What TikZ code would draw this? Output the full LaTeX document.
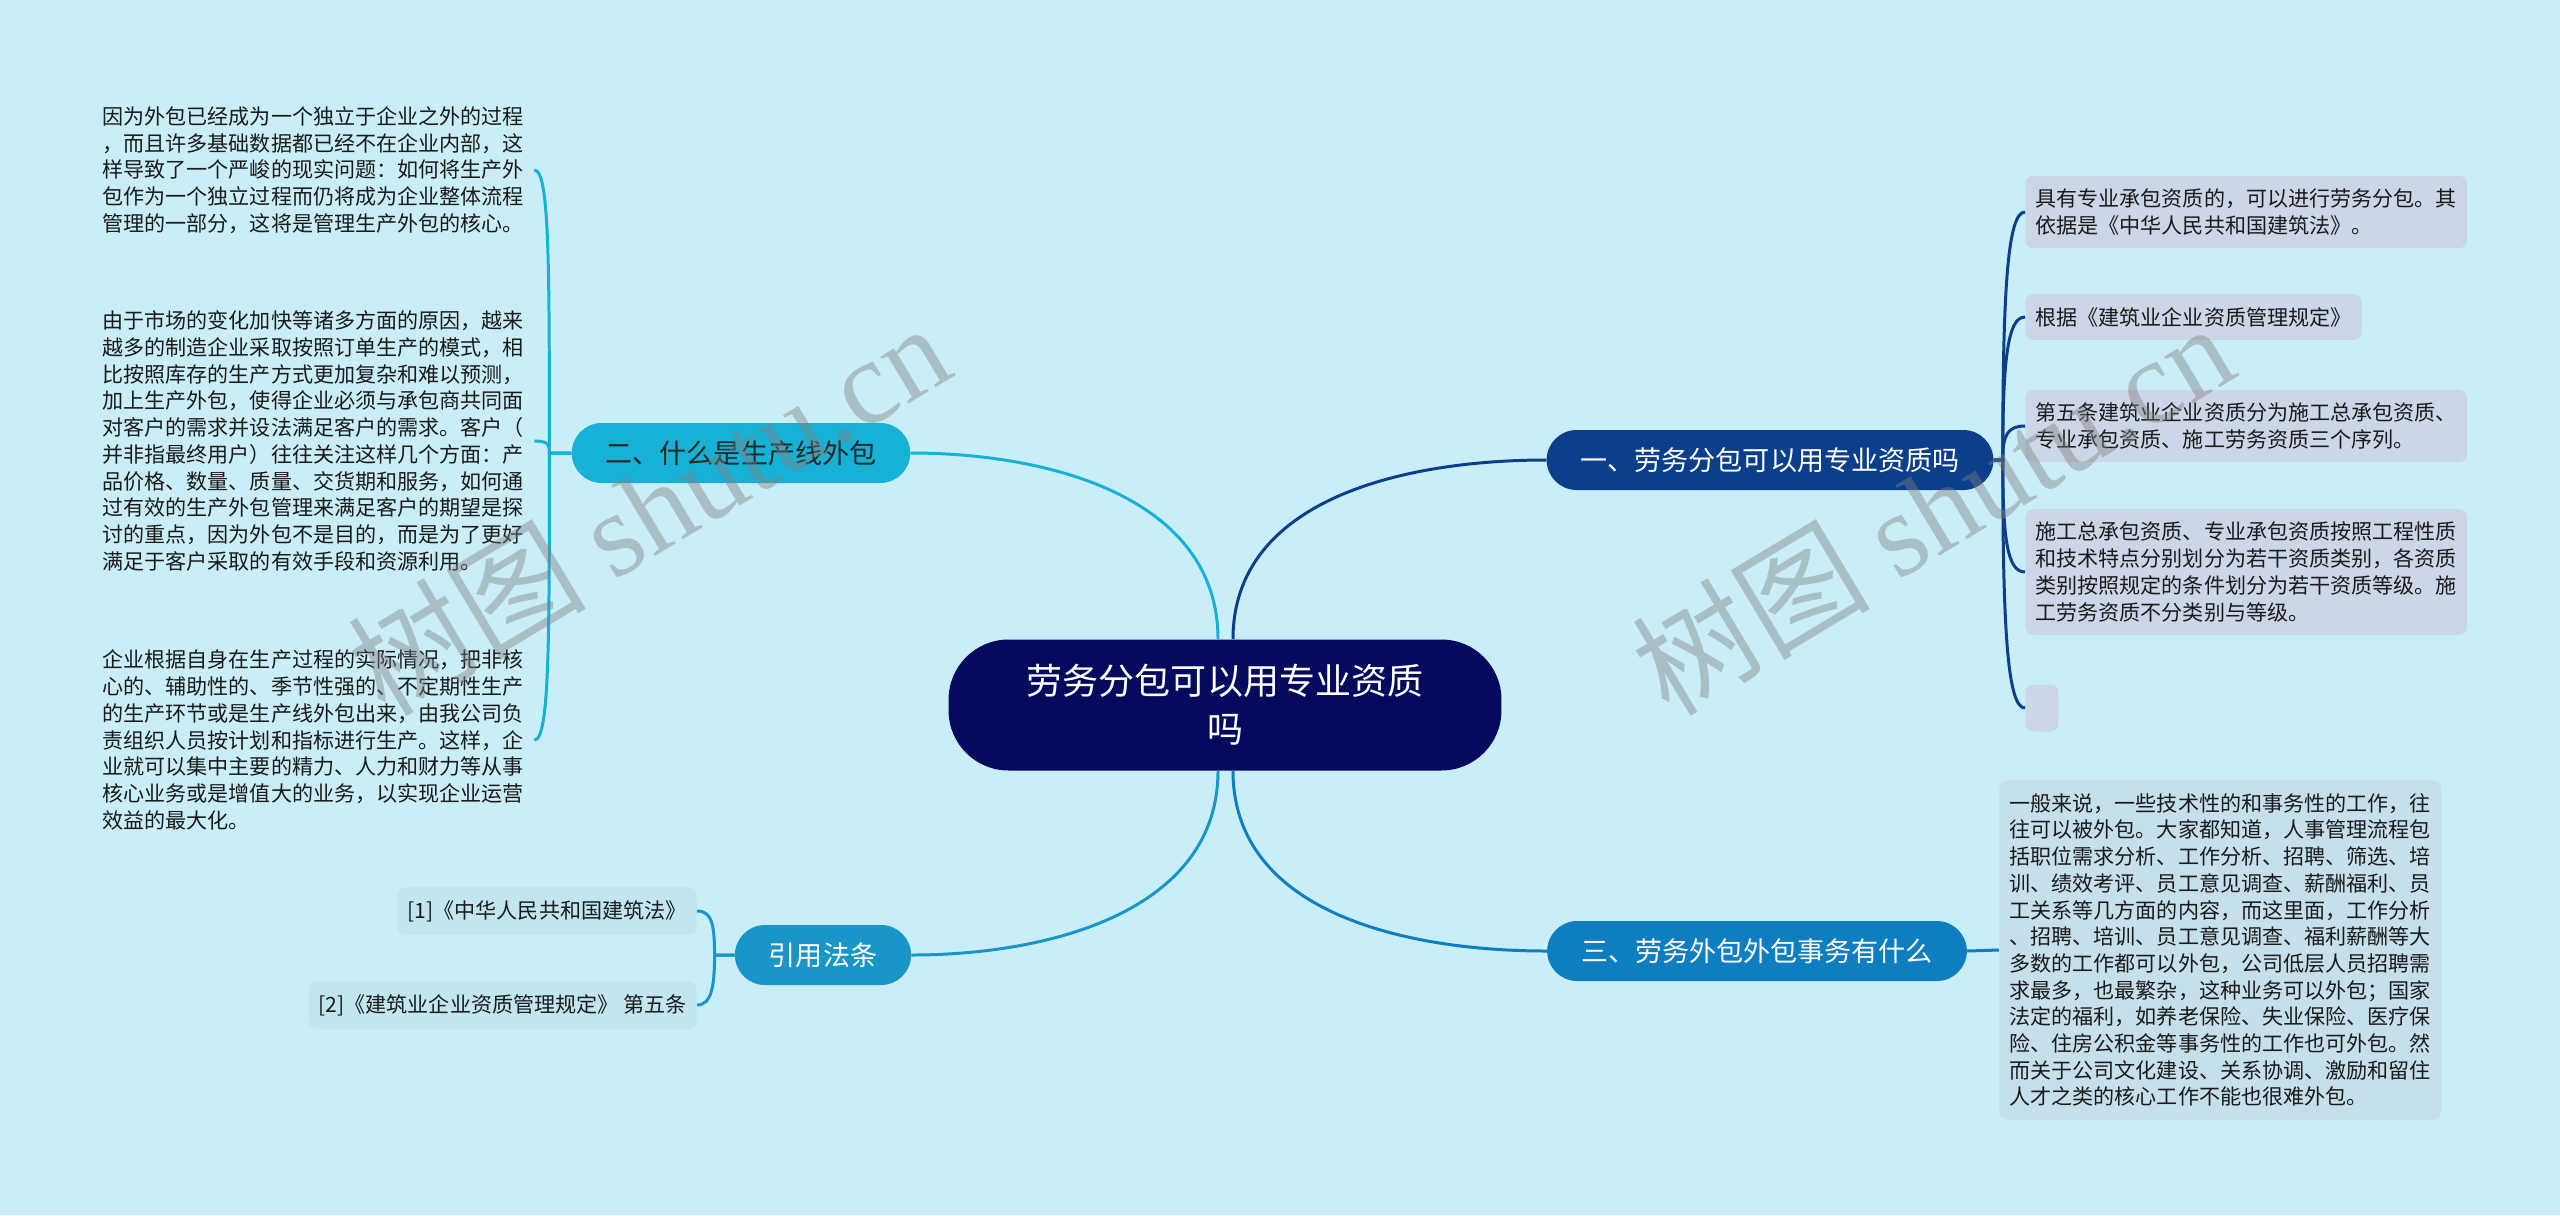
\documentclass[tikz,border=0pt]{standalone}
\usepackage{fontspec}
\setmainfont{Noto Sans CJK SC}
\newfontfamily\wmlatin{Liberation Serif}
\usetikzlibrary{positioning}

\definecolor{bgcol}{HTML}{C9EEF7}
\definecolor{topiccol}{HTML}{050A5E}
\definecolor{onecol}{HTML}{0C3F8B}
\definecolor{twocol}{HTML}{17B1D6}
\definecolor{threecol}{HTML}{0E7EC0}
\definecolor{fourcol}{HTML}{1A95C8}
\definecolor{leafcol}{HTML}{CBD6E6}
\definecolor{notecol}{HTML}{C5DFEB}
\definecolor{refcol}{HTML}{C2E6F0}
\definecolor{inkcol}{HTML}{1A1A1A}

\begin{document}
\begin{tikzpicture}[x=0.02cm, y=0.02cm,
            topic/.style={fill=topiccol, text=white, rounded corners=1.2cm, minimum width=11.06cm, minimum height=2.62cm, align=center, font=\fontsize{20.5}{27.3}\selectfont},
            branch/.style={rounded corners=0.6cm, minimum height=1.2cm, inner xsep=0.68cm, font=\fontsize{15.4}{18}\selectfont},
            leaf/.style={fill=leafcol, rounded corners=0.16cm, anchor=west, align=left, inner xsep=0.2cm, inner ysep=0.26cm, text=inkcol, font=\fontsize{12}{15.2}\selectfont},
            para/.style={leaf, fill=none},
            link/.style={line width=1.7pt},
            wmark/.style={rotate=31, text=black!50, text opacity=0.42, font=\fontsize{68}{68}\selectfont}]
            \useasboundingbox (0,0) rectangle (2560,-1215);
            \fill[bgcol] (0,0) rectangle (2560,-1215);
            \node[topic] (ctr) at (1225,-705) {劳务分包可以用专业资质\\吗};
            \node[branch, fill=onecol, text=white] (b1) at (1770,-460) {一、劳务分包可以用专业资质吗};
            \node[branch, fill=twocol, text=black!85] (b2) at (741,-453) {二、什么是生产线外包};
            \node[branch, fill=threecol, text=white] (b3) at (1757,-951) {三、劳务外包外包事务有什么};
            \node[branch, fill=fourcol, text=white] (b4) at (823,-955) {引用法条};
            \node[leaf] (l1) at (2025,-212) {具有专业承包资质的，可以进行劳务分包。其\\依据是《中华人民共和国建筑法》。};
            \node[leaf] (l2) at (2025,-317) {根据《建筑业企业资质管理规定》};
            \node[leaf] (l3) at (2025,-426) {第五条建筑业企业资质分为施工总承包资质、\\专业承包资质、施工劳务资质三个序列。};
            \node[leaf] (l4) at (2025,-572) {施工总承包资质、专业承包资质按照工程性质\\和技术特点分别划分为若干资质类别，各资质\\类别按照规定的条件划分为若干资质等级。施\\工劳务资质不分类别与等级。};
            \node[leaf, minimum width=0.66cm, minimum height=0.94cm] (l5) at (2025,-708) {};
            \node[leaf, fill=notecol] (n3) at (1999,-950) {一般来说，一些技术性的和事务性的工作，往\\往可以被外包。大家都知道，人事管理流程包\\括职位需求分析、工作分析、招聘、筛选、培\\训、绩效考评、员工意见调查、薪酬福利、员\\工关系等几方面的内容，而这里面，工作分析\\、招聘、培训、员工意见调查、福利薪酬等大\\多数的工作都可以外包，公司低层人员招聘需\\求最多，也最繁杂，这种业务可以外包；国家\\法定的福利，如养老保险、失业保险、医疗保\\险、住房公积金等事务性的工作也可外包。然\\而关于公司文化建设、关系协调、激励和留住\\人才之类的核心工作不能也很难外包。};
            \node[para] (t1) at (92,-170) {因为外包已经成为一个独立于企业之外的过程\\，而且许多基础数据都已经不在企业内部，这\\样导致了一个严峻的现实问题：如何将生产外\\包作为一个独立过程而仍将成为企业整体流程\\管理的一部分，这将是管理生产外包的核心。};
            \node[para] (t2) at (92,-441) {由于市场的变化加快等诸多方面的原因，越来\\越多的制造企业采取按照订单生产的模式，相\\比按照库存的生产方式更加复杂和难以预测，\\加上生产外包，使得企业必须与承包商共同面\\对客户的需求并设法满足客户的需求。客户（\\并非指最终用户）往往关注这样几个方面：产\\品价格、数量、质量、交货期和服务，如何通\\过有效的生产外包管理来满足客户的期望是探\\讨的重点，因为外包不是目的，而是为了更好\\满足于客户采取的有效手段和资源利用。};
            \node[para] (t3) at (92,-740) {企业根据自身在生产过程的实际情况，把非核\\心的、辅助性的、季节性强的、不定期性生产\\的生产环节或是生产线外包出来，由我公司负\\责组织人员按计划和指标进行生产。这样，企\\业就可以集中主要的精力、人力和财力等从事\\核心业务或是增值大的业务，以实现企业运营\\效益的最大化。};
            \node[leaf, fill=refcol, anchor=east] (r1) at (697,-911) {[1]《中华人民共和国建筑法》};
            \node[leaf, fill=refcol, anchor=east] (r2) at (697,-1005) {[2]《建筑业企业资质管理规定》 第五条};
            \draw[link, twocol] (b2.east) to[out=0, in=90] ([xshift=-0.14cm]ctr.north);
            \draw[link, onecol] ([xshift=0.16cm]ctr.north) to[out=90, in=180] (b1.west);
            \draw[link, fourcol] (b4.east) to[out=0, in=-90] ([xshift=-0.14cm]ctr.south);
            \draw[link, threecol] ([xshift=0.16cm]ctr.south) to[out=-90, in=180] (b3.west);
            \foreach \leaf/\bend in {l1/3.4cm, l2/2cm, l3/0.5cm}
                \draw[link, onecol] (b1.east) -- ++(9,0) to[out=90, in=180, out distance=\bend, in distance=0.35cm] (\leaf.west);
            \foreach \leaf/\bend in {l4/1.6cm, l5/3.4cm}
                \draw[link, onecol] (b1.east) -- ++(9,0) to[out=-90, in=180, out distance=\bend, in distance=0.35cm] (\leaf.west);
            \draw[link, twocol] (b2.west) -- ++(-22,0) to[out=90, in=0, out distance=3.8cm, in distance=0.3cm] (t1.east);
            \draw[link, twocol] (b2.west) -- ++(-22,0) to[out=90, in=0, out distance=0.15cm, in distance=0.3cm] (t2.east);
            \draw[link, twocol] (b2.west) -- ++(-22,0) to[out=-90, in=0, out distance=3.8cm, in distance=0.3cm] (t3.east);
            \draw[link, fourcol] (b4.west) -- ++(-20,0) to[out=90, in=0, out distance=0.6cm, in distance=0.3cm] (r1.east);
            \draw[link, fourcol] (b4.west) -- ++(-20,0) to[out=-90, in=0, out distance=0.6cm, in distance=0.3cm] (r2.east);
            \draw[link, threecol] (b3.east) -- (n3.west);
            \node[wmark] (wm1) at (648,-508) {树图 {\wmlatin shutu.cn}};
            \node[wmark] (wm2) at (1932,-508) {树图 {\wmlatin shutu.cn}};
        \end{tikzpicture}
\end{document}
